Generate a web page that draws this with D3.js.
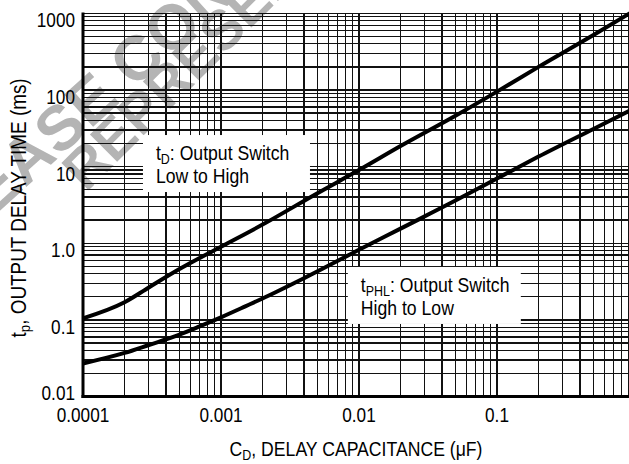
<!DOCTYPE html>
<html><head><meta charset="utf-8">
<script src="https://cdn.jsdelivr.net/npm/d3@7"></script>
<style>
html,body{margin:0;padding:0;background:#fff;}
svg text{font-family:"Liberation Sans",Arial,Helvetica,sans-serif;fill:#000;}
</style></head>
<body>
<svg id="c" width="629" height="464"></svg>
<script>
// ---- data ----
const capTD = [0.0001, 0.0002, 0.0003, 0.0005, 0.001, 0.002, 0.005, 0.01, 0.02, 0.05, 0.1, 0.2, 0.5, 1.0];
const delayTD = [0.105, 0.17, 0.265, 0.46, 0.9, 1.75, 4.5, 9.0, 18.5, 46, 95, 200, 520, 1100];
const capTPHL = [0.0001, 0.0002, 0.0003, 0.0005, 0.0007, 0.001, 0.0015, 0.002, 0.004, 0.01, 0.02, 0.05, 0.1, 0.2, 0.5, 1.0];
const delayTPHL = [0.027, 0.037, 0.047, 0.064, 0.082, 0.108, 0.15, 0.19, 0.35, 0.82, 1.55, 3.6, 7.0, 13.5, 31, 58];
const xTickValues = [0.0001, 0.001, 0.01, 0.1];
const xTickLabels = ["0.0001", "0.001", "0.01", "0.1"];
const yTickValues = [0.01, 0.1, 1, 10, 100, 1000];
const yTickLabels = ["0.01", "0.1", "1.0", "10", "100", "1000"];

// ---- layout ----
const svg = d3.select("#c");
const x = d3.scaleLog().domain([0.0001, 1]).range([83, 635]);
const y = d3.scaleLog().domain([0.01, 1000]).range([396.5, 13.3]);
const SX = 0.86; // condensed face

function txt(parent, px, py, size, anchor, sx) {
  return parent.append("g").attr("transform", `translate(${px},${py}) scale(${sx},1)`)
    .append("text").attr("text-anchor", anchor).style("font-size", size + "px");
}

// watermark
const wm = svg.append("g");
wm.append("text").attr("transform", "translate(-66,270) rotate(-42)")
  .style("font-weight", "bold").style("font-size", "63px").style("fill", "#b4b4b4")
  .text("PLEASE CONTACT");
wm.append("text").attr("transform", "translate(86,193) rotate(-45)")
  .style("font-weight", "bold").style("font-size", "56px").style("fill", "#b4b4b4")
  .text("REPRESENTATIVE");

// grid values
const xGrid = [];
for (let d = 0.0001; d < 0.5; d *= 10) for (let m = 1; m <= 9; m++) xGrid.push(+(d * m).toPrecision(3));
xGrid.push(1);
const yGrid = [];
for (let d = 0.01; d < 500; d *= 10) for (let m = 1; m <= 9; m++) yGrid.push(+(d * m).toPrecision(3));
yGrid.push(1000);

const grid = svg.append("g").attr("stroke", "#111").attr("stroke-width", 1.3).attr("shape-rendering", "crispEdges");
grid.selectAll("line.v").data(xGrid).join("line").attr("class", "v")
  .attr("x1", d => x(d)).attr("x2", d => x(d)).attr("y1", y(1000)).attr("y2", y(0.01));
grid.selectAll("line.h").data(yGrid).join("line").attr("class", "h")
  .attr("x1", x(0.0001)).attr("x2", 629).attr("y1", d => y(d)).attr("y2", d => y(d));

// axes (thick)
svg.append("line").attr("x1", x(0.0001)).attr("x2", x(0.0001)).attr("y1", y(1000) - 0.7).attr("y2", y(0.01) + 1.5)
  .attr("stroke", "#000").attr("stroke-width", 3);
svg.append("line").attr("x1", x(0.0001) - 1.5).attr("x2", 629).attr("y1", y(0.01)).attr("y2", y(0.01))
  .attr("stroke", "#000").attr("stroke-width", 3);

// curves
const line = d3.line().x(d => x(d[0])).y(d => y(d[1])).curve(d3.curveMonotoneX);
svg.append("clipPath").attr("id", "pc").append("rect")
  .attr("x", x(0.0001)).attr("y", y(1000) - 3).attr("width", 629 - x(0.0001)).attr("height", y(0.01) - y(1000) + 3);
svg.append("path").datum(d3.zip(capTD, delayTD)).attr("d", line)
  .attr("fill", "none").attr("stroke", "#000").attr("stroke-width", 4).attr("clip-path", "url(#pc)");
svg.append("path").datum(d3.zip(capTPHL, delayTPHL)).attr("d", line)
  .attr("fill", "none").attr("stroke", "#000").attr("stroke-width", 4).attr("clip-path", "url(#pc)");

// annotation boxes (anchored in data coordinates)
function note(cx, cy, w, h, main, sub, rest, line2) {
  const X = x(cx), Y = y(cy);
  svg.append("rect").attr("x", X).attr("y", Y).attr("width", w).attr("height", h).attr("fill", "#fff");
  const t = txt(svg, X + 13, Y + 25, 20.5, "start", SX);
  t.append("tspan").text(main);
  t.append("tspan").attr("dy", 4).style("font-size", "14.5px").text(sub);
  t.append("tspan").attr("dy", -4).text(rest);
  txt(svg, X + 13, Y + 48, 20.5, "start", SX).text(line2);
}
note(0.000272, 25.8, 167, 57, "t", "D", ": Output Switch", "Low to High");
note(0.0083, 0.49, 173, 57, "t", "PHL", ": Output Switch", "High to Low");

// tick labels
const yTop = y(1000), yBot = y(0.01);
yTickValues.forEach((v, i) => {
  const cy = Math.min(Math.max(y(v) + 7, yTop + 1), yBot - 3);
  txt(svg, 75, cy, 20, "end", SX).attr("dominant-baseline", "central").text(yTickLabels[i]);
});
xTickValues.forEach((v, i) => {
  txt(svg, x(v), yBot + 19, 20, "middle", SX).attr("dominant-baseline", "central").text(xTickLabels[i]);
});

// axis titles
const xt = txt(svg, 356, 456, 20.5, "middle", SX);
xt.append("tspan").text("C");
xt.append("tspan").attr("dy", 4).style("font-size", "14.5px").text("D");
xt.append("tspan").attr("dy", -4).text(", DELAY CAPACITANCE (\u03BCF)");

const yt = svg.append("g").attr("transform", "translate(26," + ((yTop + yBot) / 2 + 3) + ") rotate(-90) scale(" + SX + ",1)")
  .append("text").attr("text-anchor", "middle").style("font-size", "22px");
yt.append("tspan").text("t");
yt.append("tspan").attr("dy", 4).style("font-size", "15.5px").text("p");
yt.append("tspan").attr("dy", -4).text(", OUTPUT DELAY TIME (ms)");
</script>
</body></html>
